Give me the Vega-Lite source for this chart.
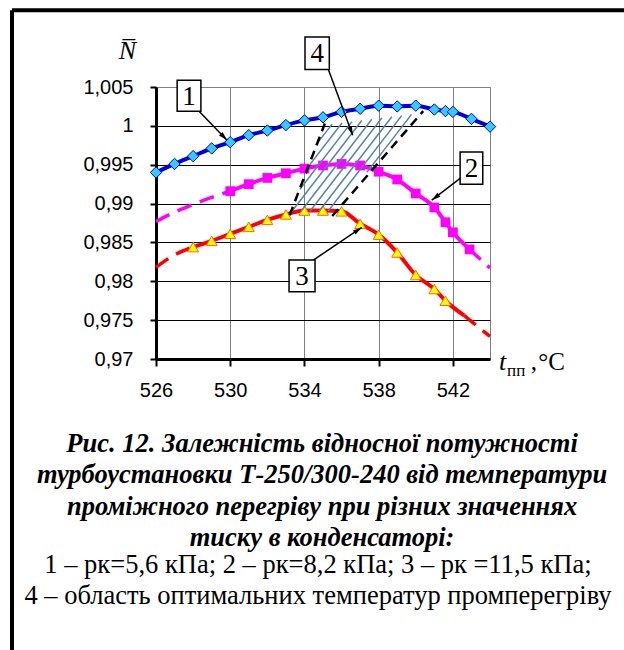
{
  "$schema": "https://vega.github.io/schema/vega-lite/v6.json",
  "width": 334,
  "height": 272,
  "autosize": {"type": "none"},
  "padding": {"left": 156, "top": 87, "right": 134, "bottom": 291},
  "background": "white",
  "config": {"view": {"stroke": "#808080", "strokeWidth": 1}},
  "datasets": {
    "solid": [
      {"s": "1", "m": 1, "x": 526, "y": 0.9940},
      {"s": "1", "m": 1, "x": 527, "y": 0.9951},
      {"s": "1", "m": 1, "x": 528, "y": 0.9961},
      {"s": "1", "m": 1, "x": 529, "y": 0.9971},
      {"s": "1", "m": 1, "x": 530, "y": 0.9979},
      {"s": "1", "m": 1, "x": 531, "y": 0.9988},
      {"s": "1", "m": 1, "x": 532, "y": 0.9994},
      {"s": "1", "m": 1, "x": 533, "y": 1.0001},
      {"s": "1", "m": 1, "x": 534, "y": 1.0007},
      {"s": "1", "m": 1, "x": 535, "y": 1.0011},
      {"s": "1", "m": 1, "x": 536, "y": 1.0018},
      {"s": "1", "m": 1, "x": 537, "y": 1.0022},
      {"s": "1", "m": 1, "x": 538, "y": 1.0026},
      {"s": "1", "m": 1, "x": 539, "y": 1.0025},
      {"s": "1", "m": 1, "x": 540, "y": 1.0026},
      {"s": "1", "m": 1, "x": 541, "y": 1.0021},
      {"s": "1", "m": 1, "x": 541.6, "y": 1.0019},
      {"s": "1", "m": 1, "x": 542, "y": 1.0018},
      {"s": "1", "m": 1, "x": 543, "y": 1.0009},
      {"s": "1", "m": 1, "x": 544, "y": 0.9999},
      {"s": "2", "m": 1, "x": 530, "y": 0.9916},
      {"s": "2", "m": 1, "x": 531, "y": 0.9925},
      {"s": "2", "m": 1, "x": 532, "y": 0.9933},
      {"s": "2", "m": 1, "x": 533, "y": 0.9939},
      {"s": "2", "m": 1, "x": 534, "y": 0.9945},
      {"s": "2", "m": 1, "x": 535, "y": 0.9949},
      {"s": "2", "m": 1, "x": 536, "y": 0.9951},
      {"s": "2", "m": 1, "x": 537, "y": 0.9949},
      {"s": "2", "m": 1, "x": 538, "y": 0.9941},
      {"s": "2", "m": 1, "x": 539, "y": 0.9931},
      {"s": "2", "m": 1, "x": 540, "y": 0.9913},
      {"s": "2", "m": 1, "x": 541, "y": 0.9895},
      {"s": "2", "m": 1, "x": 541.6, "y": 0.9876},
      {"s": "2", "m": 1, "x": 542, "y": 0.9863},
      {"s": "2", "m": 1, "x": 542.9, "y": 0.9841},
      {"s": "3", "m": 1, "x": 528, "y": 0.9844},
      {"s": "3", "m": 1, "x": 529, "y": 0.9852},
      {"s": "3", "m": 1, "x": 530, "y": 0.9861},
      {"s": "3", "m": 1, "x": 531, "y": 0.9870},
      {"s": "3", "m": 1, "x": 532, "y": 0.9879},
      {"s": "3", "m": 1, "x": 533, "y": 0.9886},
      {"s": "3", "m": 1, "x": 534, "y": 0.9891},
      {"s": "3", "m": 1, "x": 535, "y": 0.9891},
      {"s": "3", "m": 1, "x": 536, "y": 0.9890},
      {"s": "3", "m": 1, "x": 537, "y": 0.9874},
      {"s": "3", "m": 1, "x": 538, "y": 0.9860},
      {"s": "3", "m": 1, "x": 539, "y": 0.9837},
      {"s": "3", "m": 1, "x": 540, "y": 0.9808},
      {"s": "3", "m": 1, "x": 541, "y": 0.9790},
      {"s": "3", "m": 1, "x": 541.6, "y": 0.9775},
      {"s": "3", "m": 0, "x": 542.6, "y": 0.9756}
    ],
    "dash": [
      {"s": "2", "g": "2a", "x": 526, "y": 0.9877},
      {"s": "2", "g": "2a", "x": 527, "y": 0.9889},
      {"s": "2", "g": "2a", "x": 528, "y": 0.9899},
      {"s": "2", "g": "2a", "x": 530, "y": 0.9916},
      {"s": "2", "g": "2b", "x": 542.9, "y": 0.9841},
      {"s": "2", "g": "2b", "x": 544, "y": 0.9817},
      {"s": "3", "g": "3a", "x": 526, "y": 0.9818},
      {"s": "3", "g": "3a", "x": 527, "y": 0.9834},
      {"s": "3", "g": "3a", "x": 528, "y": 0.9844},
      {"s": "3", "g": "3b", "x": 542.6, "y": 0.9756},
      {"s": "3", "g": "3b", "x": 544, "y": 0.9729}
    ],
    "hatch": [
      {"x": 534.61, "y": 0.99752, "x2": 535.49, "y2": 1.00022},
      {"x": 534.19, "y": 0.99469, "x2": 536.02, "y2": 1.00037},
      {"x": 533.76, "y": 0.99185, "x2": 536.56, "y2": 1.00054},
      {"x": 533.33, "y": 0.98902, "x2": 537.09, "y2": 1.00069},
      {"x": 533.82, "y": 0.98902, "x2": 537.63, "y2": 1.00085},
      {"x": 534.30, "y": 0.98902, "x2": 538.17, "y2": 1.00102},
      {"x": 534.79, "y": 0.98902, "x2": 538.71, "y2": 1.00117},
      {"x": 535.27, "y": 0.98902, "x2": 539.24, "y2": 1.00132},
      {"x": 537.36, "y": 0.99401, "x2": 539.77, "y2": 1.00148}
    ],
    "bound": [
      {"x": 533.2, "y": 0.9885, "x2": 535.1, "y2": 1.0003},
      {"x": 535.5, "y": 0.9884, "x2": 540.4, "y2": 1.0019}
    ],
    "arrows": [
      {"x": 528.32, "y": 1.00187, "x2": 529.83, "y2": 0.99815, "ang": 136},
      {"x": 535.29, "y": 1.00724, "x2": 536.60, "y2": 0.99879, "ang": 160},
      {"x": 542.39, "y": 0.99323, "x2": 540.86, "y2": 0.99044, "ang": 232.5},
      {"x": 534.48, "y": 0.98273, "x2": 537.09, "y2": 0.98693, "ang": 56}
    ],
    "boxes": [
      {"label": "1", "x": 527.14, "x2": 528.42, "y": 1.00188, "y2": 1.00586, "xc": 527.78, "yc": 1.00387},
      {"label": "4", "x": 534.03, "x2": 535.34, "y": 1.00724, "y2": 1.01143, "xc": 534.69, "yc": 1.00934},
      {"label": "2", "x": 542.39, "x2": 543.61, "y": 0.99249, "y2": 0.99665, "xc": 543.0, "yc": 0.99457},
      {"label": "3", "x": 533.17, "x2": 534.57, "y": 0.97865, "y2": 0.98273, "xc": 533.87, "yc": 0.98069}
    ],
    "frameLeft": [
      {"x": 518.24, "y": 1.01486, "y2": 0.93}
    ],
    "frameTop": [
      {"x": 518.24, "x2": 551.3, "y": 1.01486}
    ],
    "captionBold": [
      {"t": "Рис. 12. Залежність відносної потужності", "x": 534.95, "y": 0.95805},
      {"t": "турбоустановки Т-250/300-240 від температури", "x": 534.95, "y": 0.95400},
      {"t": "проміжного перегріву при різних значеннях", "x": 534.95, "y": 0.94995},
      {"t": "тиску в конденсаторі:", "x": 534.95, "y": 0.94597}
    ],
    "captionPlain": [
      {"t": "1 – pк=5,6 кПа; 2 – pк=8,2 кПа; 3 – pк =11,5 кПа;", "x": 534.73, "y": 0.94243},
      {"t": "4 – область оптимальних температур промперегріву", "x": 534.73, "y": 0.93851}
    ]
  },
  "encoding": {
    "x": {
      "field": "x",
      "type": "quantitative",
      "scale": {"domain": [526, 544], "nice": false, "zero": false},
      "axis": {
        "values": [526, 530, 534, 538, 542],
        "title": null,
        "grid": true,
        "gridColor": "#808080",
        "gridWidth": 1,
        "gridOpacity": 1,
        "domainColor": "#000000",
        "domainWidth": 3,
        "tickColor": "#000000",
        "tickWidth": 2,
        "tickSize": 7,
        "labelFont": "Liberation Sans",
        "labelFontSize": 20,
        "labelColor": "#000000",
        "labelPadding": 14,
        "labelFlush": false,
        "labelOverlap": false,
        "labelBound": false
      }
    },
    "y": {
      "field": "y",
      "type": "quantitative",
      "scale": {"domain": [0.97, 1.005], "nice": false, "zero": false},
      "axis": {
        "values": [0.97, 0.975, 0.98, 0.985, 0.99, 0.995, 1, 1.005],
        "labelExpr": "replace(format(datum.value, '.4~f'), '.', ',')",
        "title": "N\u0305",
        "titleAngle": 0,
        "titleX": -29,
        "titleY": -29,
        "titleAlign": "center",
        "titleBaseline": "alphabetic",
        "titleFont": "Liberation Serif",
        "titleFontStyle": "italic",
        "titleFontWeight": "normal",
        "titleFontSize": 26,
        "titleColor": "#000000",
        "grid": true,
        "gridColor": {"condition": {"test": "datum.value > 1.004", "value": "#808080"}, "value": "#000000"},
        "gridWidth": 1,
        "gridOpacity": 1,
        "domainColor": "#000000",
        "domainWidth": 3,
        "tickColor": "#000000",
        "tickWidth": 2,
        "tickSize": 6,
        "labelFont": "Liberation Sans",
        "labelFontSize": 20,
        "labelColor": "#000000",
        "labelPadding": 17,
        "labelFlush": false,
        "labelOverlap": false,
        "labelBound": false
      }
    }
  },
  "layer": [
    {
      "data": {"name": "frameLeft"},
      "mark": {"type": "rule", "color": "#000000", "strokeWidth": 4},
      "encoding": {"y2": {"field": "y2"}}
    },
    {
      "data": {"name": "frameTop"},
      "mark": {"type": "rule", "color": "#000000", "strokeWidth": 4},
      "encoding": {"x2": {"field": "x2"}}
    },
    {
      "data": {"name": "solid"},
      "mark": {"type": "line", "interpolate": "monotone", "strokeWidth": 4},
      "encoding": {
        "color": {"field": "s", "type": "nominal", "scale": {"domain": ["1", "2", "3"], "range": ["#0000DD", "#FF00FF", "#FF0000"]}, "legend": null}
      }
    },
    {
      "data": {"name": "dash"},
      "mark": {"type": "line", "interpolate": "monotone", "strokeWidth": 3.5, "strokeDash": [15, 9]},
      "encoding": {
        "detail": {"field": "g", "type": "nominal"},
        "color": {"field": "s", "type": "nominal", "scale": {"domain": ["1", "2", "3"], "range": ["#0000DD", "#FF00FF", "#FF0000"]}, "legend": null}
      }
    },
    {
      "data": {"name": "solid"},
      "transform": [{"filter": "datum.s == '1'"}],
      "mark": {"type": "point", "shape": "diamond", "filled": true, "fill": "#33CCFF", "stroke": "#0000CC", "strokeWidth": 1, "size": 130, "opacity": 1}
    },
    {
      "data": {"name": "solid"},
      "transform": [{"filter": "datum.s == '2'"}],
      "mark": {"type": "point", "shape": "square", "filled": true, "fill": "#FF00FF", "size": 95, "opacity": 1}
    },
    {
      "data": {"name": "solid"},
      "transform": [{"filter": "datum.s == '3' && datum.m == 1"}],
      "mark": {"type": "point", "shape": "triangle-up", "filled": true, "fill": "#FFFF00", "stroke": "#FF6600", "strokeWidth": 1, "size": 120, "opacity": 1}
    },
    {
      "data": {"name": "hatch"},
      "mark": {"type": "rule", "color": "#5581B5", "strokeWidth": 1.5},
      "encoding": {"x2": {"field": "x2"}, "y2": {"field": "y2"}}
    },
    {
      "data": {"name": "bound"},
      "mark": {"type": "rule", "color": "#000000", "strokeWidth": 2.5, "strokeDash": [9, 6]},
      "encoding": {"x2": {"field": "x2"}, "y2": {"field": "y2"}}
    },
    {
      "data": {"name": "arrows"},
      "mark": {"type": "rule", "color": "#000000", "strokeWidth": 1.5},
      "encoding": {"x2": {"field": "x2"}, "y2": {"field": "y2"}}
    },
    {
      "data": {"name": "arrows"},
      "mark": {"type": "point", "shape": "M0,0L0.5,1.8L-0.5,1.8Z", "filled": true, "fill": "#000000", "size": 100, "opacity": 1},
      "encoding": {
        "x": {"field": "x2", "type": "quantitative"},
        "y": {"field": "y2", "type": "quantitative"},
        "angle": {"field": "ang", "type": "quantitative", "scale": null}
      }
    },
    {
      "data": {"name": "boxes"},
      "mark": {"type": "rect", "fill": "#FFFFFF", "stroke": "#000000", "strokeWidth": 1.5},
      "encoding": {"x2": {"field": "x2"}, "y2": {"field": "y2"}}
    },
    {
      "data": {"name": "boxes"},
      "mark": {"type": "text", "font": "Liberation Serif", "fontSize": 27, "color": "#000000", "align": "center", "baseline": "middle", "dy": 1},
      "encoding": {
        "x": {"field": "xc", "type": "quantitative"},
        "y": {"field": "yc", "type": "quantitative"},
        "text": {"field": "label"}
      }
    },
    {
      "data": {"values": [{"t": "t", "x": 544.49, "y": 0.96859}]},
      "mark": {"type": "text", "font": "Liberation Serif", "fontStyle": "italic", "fontSize": 26, "color": "#000000", "align": "left", "baseline": "alphabetic"},
      "encoding": {"text": {"field": "t"}}
    },
    {
      "data": {"values": [{"t": "пп", "x": 544.92, "y": 0.96782}]},
      "mark": {"type": "text", "font": "Liberation Serif", "fontSize": 17, "color": "#000000", "align": "left", "baseline": "alphabetic"},
      "encoding": {"text": {"field": "t"}}
    },
    {
      "data": {"values": [{"t": ",", "x": 546.2, "y": 0.96859}, {"t": "°C", "x": 546.6, "y": 0.96859}]},
      "mark": {"type": "text", "font": "Liberation Serif", "fontSize": 25, "color": "#000000", "align": "left", "baseline": "alphabetic"},
      "encoding": {"text": {"field": "t"}}
    },
    {
      "data": {"name": "captionBold"},
      "mark": {"type": "text", "font": "Liberation Serif", "fontStyle": "italic", "fontWeight": "bold", "fontSize": 26.5, "color": "#000000", "align": "center", "baseline": "alphabetic"},
      "encoding": {"text": {"field": "t"}}
    },
    {
      "data": {"name": "captionPlain"},
      "mark": {"type": "text", "font": "Liberation Serif", "fontSize": 26.5, "color": "#000000", "align": "center", "baseline": "alphabetic"},
      "encoding": {"text": {"field": "t"}}
    }
  ]
}
